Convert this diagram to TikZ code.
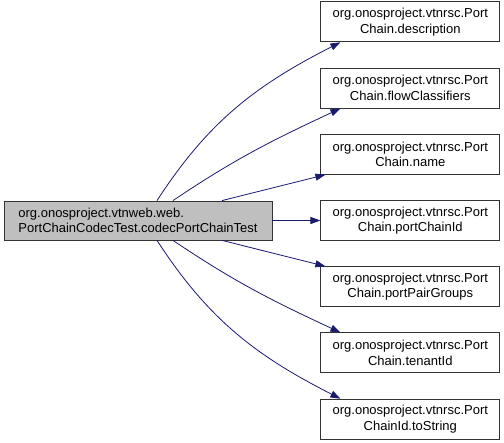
\documentclass[tikz,border=0pt]{standalone}
\usepackage{fontspec}
\setmainfont{Liberation Sans}
\usetikzlibrary{arrows.meta,positioning}
\definecolor{edgeblue}{HTML}{191970}
\tikzset{
  fn/.style={draw=black!80,line width=0.8pt,minimum width=179pt,minimum height=40pt,
             inner sep=2pt,font=\fontsize{13}{15.5}\selectfont,align=center,fill=white},
  cur/.style={fn,minimum width=268pt,minimum height=39pt,fill=black!25,align=left},
  call/.style={-{Triangle[length=10pt,width=7pt]},line width=0.8pt,draw=edgeblue},
}
\begin{document}
\begin{tikzpicture}[x=1pt,y=1pt,node distance=25.4pt and 48pt]
  \useasboundingbox (0,0) rectangle (504,443);
  %% caller
  \node[cur] (test) at (138,222.5) {org.onosproject.vtnweb.web.\\PortChainCodecTest.codecPortChainTest};
  %% callees
  \node[fn,right=of test] (chainid)   {org.onosproject.vtnrsc.Port\\Chain.portChainId};
  \node[fn,above=of chainid] (name)   {org.onosproject.vtnrsc.Port\\Chain.name};
  \node[fn,above=of name]    (flow)   {org.onosproject.vtnrsc.Port\\Chain.flowClassifiers};
  \node[fn,above=of flow]    (descr)  {org.onosproject.vtnrsc.Port\\Chain.description};
  \node[fn,below=of chainid] (groups) {org.onosproject.vtnrsc.Port\\Chain.portPairGroups};
  \node[fn,below=of groups]  (tenant) {org.onosproject.vtnrsc.Port\\Chain.tenantId};
  \node[fn,below=of tenant]  (tostr)  {org.onosproject.vtnrsc.Port\\ChainId.toString};

  %% Edges
  \draw[call]([xshift=19pt]test.north) to[out=57,in=207] ([xshift=20pt]descr.south west);
  \draw[call]([xshift=35pt]test.north) to[out=34,in=205] ([xshift=20pt]flow.south west);
  \draw[call]([xshift=84pt]test.north) -- ([xshift=5pt]name.south west);
  \draw[call](test.east) -- (chainid.west);
  \draw[call]([xshift=84pt]test.south) -- ([xshift=5pt]groups.north west);
  \draw[call]([xshift=35pt]test.south) to[out=-34,in=155] ([xshift=20pt]tenant.north west);
  \draw[call]([xshift=19pt]test.south) to[out=-57,in=153] ([xshift=20pt]tostr.north west);
\end{tikzpicture}
\end{document}
